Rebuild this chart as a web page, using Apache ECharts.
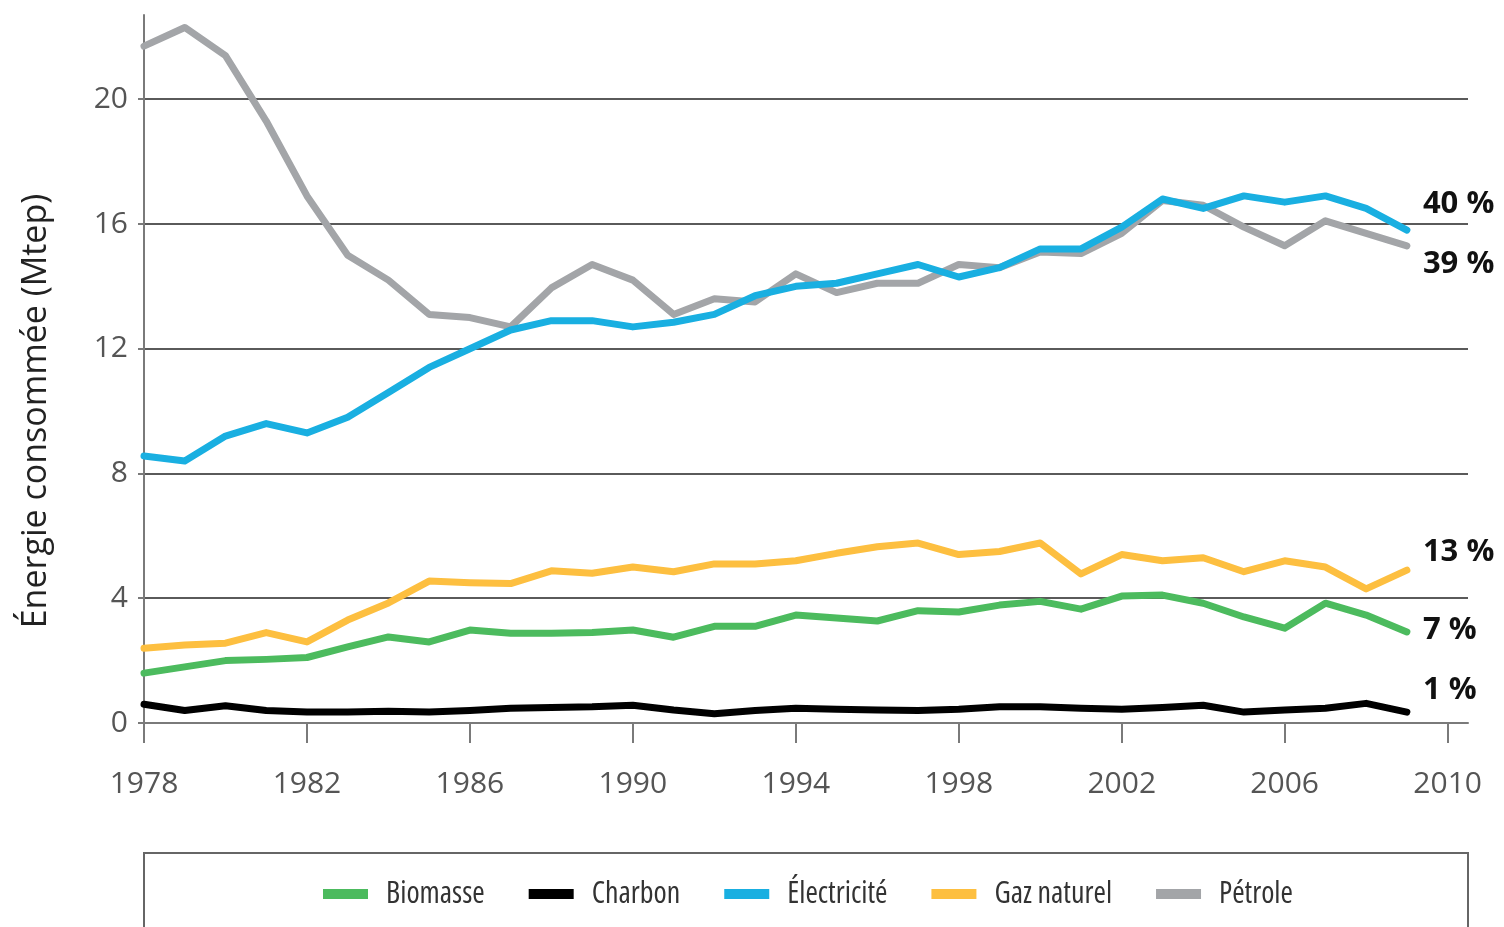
<!DOCTYPE html>
<html>
<head>
<meta charset="utf-8">
<script src="https://cdn.jsdelivr.net/npm/echarts@6/dist/echarts.min.js"></script>
<style>
  html, body { margin: 0; padding: 0; background: #fff; }
  #chart { width: 1504px; height: 927px; }
</style>
</head>
<body>
<div id="chart"></div>
<script>
// années 1978 -> 2009
const years = [1978, 1979, 1980, 1981, 1982, 1983, 1984, 1985, 1986, 1987, 1988, 1989, 1990, 1991, 1992, 1993,
  1994, 1995, 1996, 1997, 1998, 1999, 2000, 2001, 2002, 2003, 2004, 2005, 2006, 2007, 2008, 2009];

// consommation (Mtep)
const biomasse = [1.6, 1.8, 2.0, 2.04, 2.1, 2.44, 2.76, 2.6, 2.98, 2.88, 2.88, 2.9, 2.98, 2.75, 3.1, 3.1,
  3.46, 3.37, 3.27, 3.6, 3.56, 3.78, 3.9, 3.65, 4.07, 4.1, 3.84, 3.4, 3.04, 3.84, 3.46, 2.92];
const charbon = [0.6, 0.4, 0.55, 0.4, 0.35, 0.35, 0.38, 0.35, 0.4, 0.47, 0.5, 0.52, 0.57, 0.42, 0.3, 0.4,
  0.47, 0.44, 0.42, 0.4, 0.44, 0.52, 0.52, 0.47, 0.44, 0.5, 0.57, 0.35, 0.42, 0.47, 0.63, 0.35];
const electricite = [8.56, 8.4, 9.2, 9.6, 9.3, 9.8, 10.6, 11.4, 12.0, 12.6, 12.9, 12.9, 12.7, 12.85, 13.1, 13.7,
  14.0, 14.1, 14.4, 14.7, 14.3, 14.6, 15.2, 15.2, 15.9, 16.8, 16.5, 16.9, 16.7, 16.9, 16.5, 15.8];
const gaz = [2.4, 2.5, 2.56, 2.9, 2.6, 3.3, 3.85, 4.55, 4.5, 4.47, 4.88, 4.8, 5.0, 4.85, 5.1, 5.1,
  5.2, 5.44, 5.65, 5.77, 5.4, 5.5, 5.77, 4.78, 5.4, 5.2, 5.3, 4.85, 5.2, 5.0, 4.3, 4.9];
const petrole = [21.7, 22.3, 21.4, 19.3, 16.9, 15.0, 14.2, 13.1, 13.0, 12.7, 13.95, 14.7, 14.2, 13.1, 13.6, 13.5,
  14.4, 13.8, 14.1, 14.1, 14.7, 14.6, 15.1, 15.05, 15.7, 16.75, 16.6, 15.9, 15.3, 16.1, 15.7, 15.3];

const seriesNames = ['Biomasse', 'Charbon', 'Électricité', 'Gaz naturel', 'Pétrole'];
const endLabels = ['7 %', '1 %', '40 %', '13 %', '39 %'];
const xTicks = [1978, 1982, 1986, 1990, 1994, 1998, 2002, 2006, 2010];
const yTicks = [0, 4, 8, 12, 16, 20];

const colors = ['#4cbb5e', '#000000', '#19afe1', '#fdbf40', '#a3a5a8'];
const labelOffsets = [[16, -2], [16, -22], [16, -26], [16, -18], [16, 18]];
const zOrder = [4, 5, 3, 4, 2];

const chart = echarts.init(document.getElementById('chart'));

const allData = [biomasse, charbon, electricite, gaz, petrole];

const series = allData.map(function (vals, i) {
  return {
    name: seriesNames[i],
    type: 'line',
    symbol: 'none',
    z: zOrder[i],
    data: years.map(function (y, k) { return [y, vals[k]]; }),
    color: colors[i],
    lineStyle: { width: 7, color: colors[i], cap: 'round', join: 'round' },
    endLabel: {
      show: true,
      formatter: endLabels[i],
      distance: 0,
      offset: labelOffsets[i],
      fontSize: 31,
      fontWeight: 'bold',
      fontFamily: 'Open Sans',
      color: '#111'
    },
    emphasis: { disabled: true }
  };
});

chart.setOption({
  animation: false,
  grid: { left: 144, right: 36, top: 15, bottom: 204, containLabel: false, outerBoundsMode: 'none' },
  xAxis: {
    type: 'value',
    min: 1978,
    max: 2010.5,
    axisLine: { show: true, lineStyle: { color: '#7a7a7a', width: 2 } },
    axisTick: { show: true, customValues: xTicks, length: 20, lineStyle: { color: '#7a7a7a', width: 2 } },
    axisLabel: {
      customValues: xTicks,
      formatter: function (v) { return String(v); },
      margin: 46,
      fontSize: 30,
      fontFamily: 'Open Sans',
      color: '#555'
    },
    splitLine: { show: false }
  },
  yAxis: {
    type: 'value',
    min: 0,
    max: 22.7,
    axisLine: { show: true, lineStyle: { color: '#7a7a7a', width: 2 } },
    axisTick: { show: true, customValues: yTicks, length: 6, lineStyle: { color: '#7a7a7a', width: 2 } },
    axisLabel: {
      customValues: yTicks,
      margin: 16,
      fontSize: 30,
      fontFamily: 'Open Sans',
      color: '#555'
    },
    splitLine: { show: true, lineStyle: { color: '#5a5a5a', width: 2 } }
  },
  legend: {
    data: seriesNames,
    left: 318,
    top: 874,
    icon: 'rect',
    itemWidth: 45,
    itemHeight: 10,
    itemGap: 44,
    textStyle: {
      fontSize: 30,
      fontStyle: 'condensed',
      fontFamily: "'Open Sans', 'Noto Sans', sans-serif",
      color: '#333',
      padding: [0, 0, 0, 13]
    }
  },
  graphic: [{
    type: 'text',
    x: 36,
    y: 411,
    rotation: Math.PI / 2,
    silent: true,
    style: {
      text: 'Énergie consommée (Mtep)',
      align: 'center',
      verticalAlign: 'middle',
      fontSize: 34,
      fontFamily: 'Open Sans',
      fill: '#222'
    }
  }, {
    type: 'rect',
    shape: { x: 144, y: 853, width: 1324, height: 120 },
    style: { fill: 'none', stroke: '#666', lineWidth: 2 },
    silent: true
  }],
  series: series
});
</script>
</body>
</html>
